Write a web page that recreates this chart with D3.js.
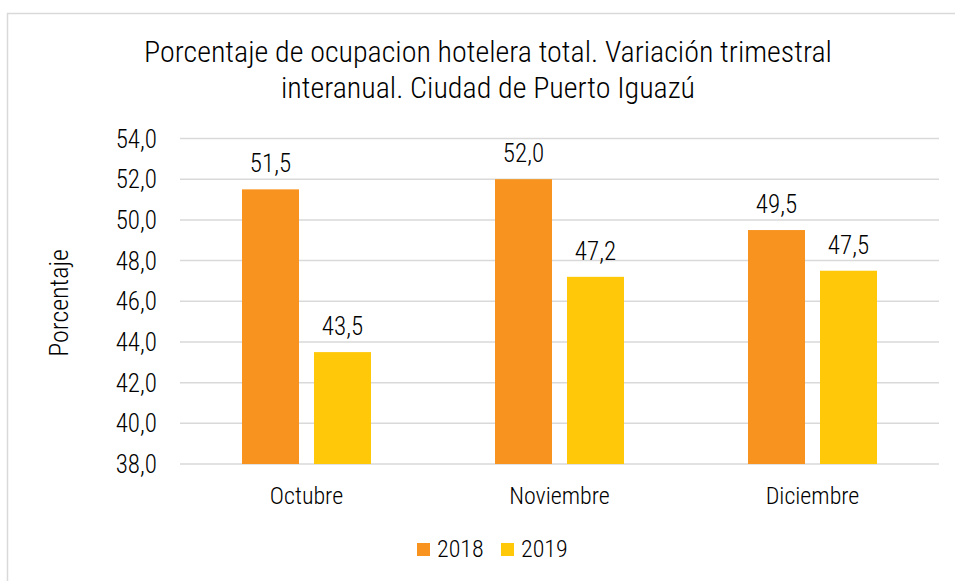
<!DOCTYPE html>
<html>
<head>
<meta charset="utf-8">
<script src="https://cdn.jsdelivr.net/npm/d3@7"></script>
<style>
  body { margin: 0; background: #fff; }
  svg text { font-family: "Roboto Condensed", "Liberation Sans Narrow", "Arial Narrow", "DejaVu Sans Condensed", sans-serif; font-weight: 300; fill: #000; }
</style>
</head>
<body>
<svg id="chart"></svg>
<script>
const months = ["Octubre", "Noviembre", "Diciembre"];
const years = ["2018", "2019"];
const values2018 = [51.5, 52.0, 49.5];
const values2019 = [43.5, 47.2, 47.5];
const yTicks = [38, 40, 42, 44, 46, 48, 50, 52, 54];
const colors = ["#F7931E", "#FFC90A"];

const width = 955, height = 581;
const svg = d3.select("#chart").attr("width", width).attr("height", height);

// frame (right/bottom edges fall outside the picture)
svg.append("rect")
  .attr("x", 7.5).attr("y", 13.5)
  .attr("width", 1000).attr("height", 1000)
  .attr("fill", "none").attr("stroke", "#d9d9d9").attr("stroke-width", 1.5);

const plotLeft = 180, plotRight = 939, plotTop = 138.5, plotBottom = 464;

const x = d3.scaleBand().domain(months).range([plotLeft, plotRight]);
const y = d3.scaleLinear().domain([38, 54]).range([plotBottom, plotTop]);
const barW = 57, gap = 15;

// grid
svg.append("g").selectAll("line")
  .data(yTicks)
  .enter()
  .append("line")
  .attr("x1", plotLeft).attr("x2", plotRight)
  .attr("y1", d => y(d)).attr("y2", d => y(d))
  .attr("stroke", "#d9d9d9").attr("stroke-width", 1.5);

// y tick labels
svg.append("g").selectAll("text")
  .data(yTicks)
  .enter()
  .append("text")
  .attr("x", 157).attr("y", d => y(d) + 9)
  .attr("text-anchor", "end")
  .style("font-size", "25px")
  .text(d => d.toFixed(1).replace(".", ","));

// bars
const series = [values2018, values2019];
series.forEach((vals, s) => {
  const g = svg.append("g");
  const bx = (d, i) => x(months[i]) + x.bandwidth() / 2 - (barW + gap / 2) + s * (barW + gap);
  g.selectAll("rect")
    .data(vals)
    .enter()
    .append("rect")
    .attr("x", bx)
    .attr("y", d => y(d))
    .attr("width", barW)
    .attr("height", d => y(38) - y(d))
    .attr("fill", colors[s]);
  g.selectAll("text")
    .data(vals)
    .enter()
    .append("text")
    .attr("x", (d, i) => bx(d, i) + barW / 2)
    .attr("y", d => y(d) - 17)
    .attr("text-anchor", "middle")
    .style("font-size", "25px")
    .text(d => d.toFixed(1).replace(".", ","));
});

// x labels
svg.append("g").selectAll("text")
  .data(months)
  .enter()
  .append("text")
  .attr("x", d => x(d) + x.bandwidth() / 2)
  .attr("y", 504)
  .attr("text-anchor", "middle")
  .style("font-size", "24px")
  .text(d => d);

// axis title
svg.append("text")
  .attr("transform", "translate(68,303) rotate(-90)")
  .attr("text-anchor", "middle")
  .style("font-size", "26px")
  .text("Porcentaje");

// title
const title = svg.append("text").attr("text-anchor", "middle").style("font-size", "30px");
title.append("tspan").attr("x", 488).attr("y", 62).text("Porcentaje de ocupacion hotelera total. Variación trimestral");
title.append("tspan").attr("x", 488).attr("y", 98).text("interanual. Ciudad de Puerto Iguazú");

// legend
const legendX = [417, 501];
years.forEach((yr, i) => {
  svg.append("rect")
    .attr("x", legendX[i]).attr("y", 543)
    .attr("width", 13).attr("height", 13)
    .attr("fill", colors[i]);
  svg.append("text")
    .attr("x", legendX[i] + 20).attr("y", 557)
    .style("font-size", "24px")
    .text(yr);
});
</script>
</body>
</html>
